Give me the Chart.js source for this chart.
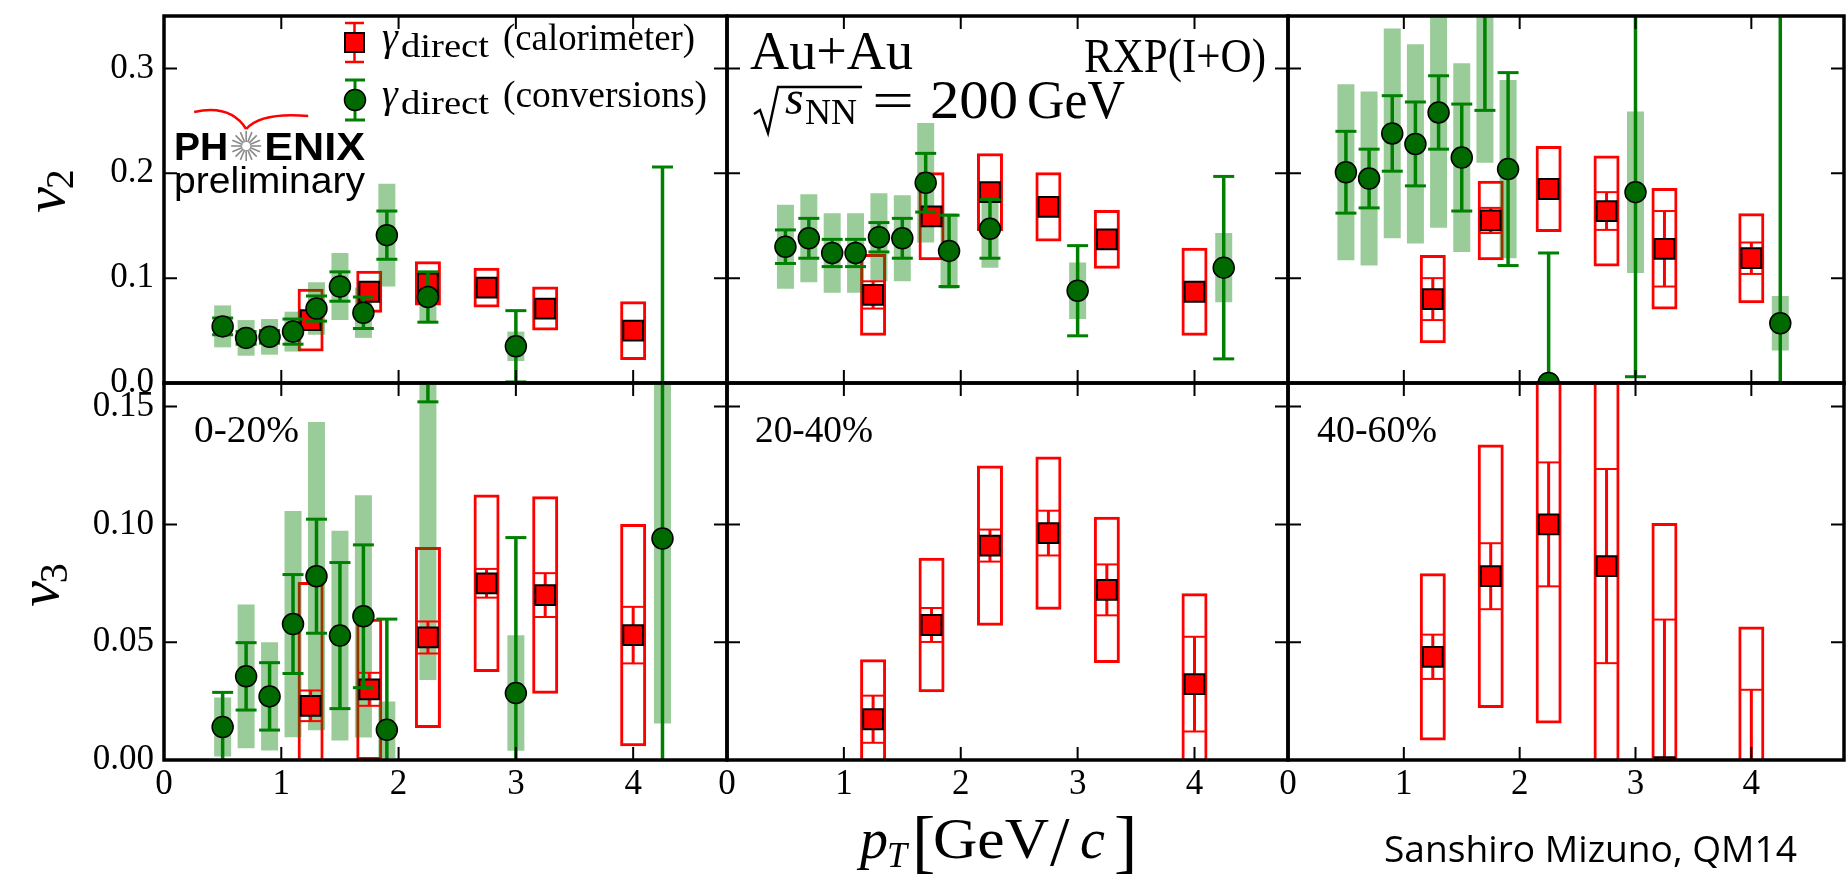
<!DOCTYPE html>
<html>
<head>
<meta charset="utf-8">
<script src="https://cdn.jsdelivr.net/npm/chart.js@4.4.1/dist/chart.umd.min.js"></script>
<style>
  html, body { margin: 0; padding: 0; overflow: hidden; background: #fff; }
  #wrap { position: relative; width: 1847px; height: 880px; overflow: hidden; background: #fff; }
  #wrap canvas { position: absolute; left: 0; top: 0; }
</style>
</head>
<body>
<div id="wrap"></div>
<script>
// ---- axes / ticks ----
const PT_TICKS = [0, 1, 2, 3, 4];
const V2_TICKS = [0.0, 0.1, 0.2, 0.3];
const V3_TICKS = [0.00, 0.05, 0.10, 0.15];

// ---- pT bins ----
const calPt  = [1.25, 1.75, 2.25, 2.75, 3.25, 4.0];
const convPt = [0.5, 0.7, 0.9, 1.1, 1.3, 1.5, 1.7, 1.9, 2.25, 3.0, 4.25];

// ---- v2, 0-20% ----
const v2Cal0020      = [0.060, 0.087, 0.095, 0.091, 0.071, 0.050];
const v2Cal0020Stat  = [0.006, 0.007, 0.007, 0.006, 0.007, 0.007];
const v2Cal0020Sys   = [0.030, 0.020, 0.021, 0.019, 0.021, 0.028];
const v2Conv0020     = [0.054, 0.043, 0.044, 0.049, 0.071, 0.092, 0.067, 0.141, 0.082, 0.035, -0.030];
const v2Conv0020Stat = [0.008, 0.006, 0.006, 0.012, 0.012, 0.014, 0.015, 0.023, 0.024, 0.034, 0.236];
const v2Conv0020Sys  = [0.020, 0.017, 0.017, 0.019, 0.025, 0.032, 0.024, 0.049, 0.023, 0.014, 0.030];

// ---- v2, 20-40% ----
const v2Cal2040      = [0.084, 0.159, 0.182, 0.168, 0.137, 0.087];
const v2Cal2040Stat  = [0.013, 0.008, 0.008, 0.007, 0.007, 0.007];
const v2Cal2040Sys   = [0.039, 0.042, 0.037, 0.033, 0.028, 0.042];
const v2Conv2040     = [0.130, 0.138, 0.124, 0.124, 0.139, 0.138, 0.191, 0.126, 0.147, 0.088, 0.110];
const v2Conv2040Stat = [0.016, 0.019, 0.013, 0.013, 0.014, 0.019, 0.028, 0.034, 0.028, 0.043, 0.087];
const v2Conv2040Sys  = [0.040, 0.042, 0.038, 0.038, 0.042, 0.041, 0.057, 0.036, 0.037, 0.027, 0.033];

// ---- v2, 40-60% ----
const v2Cal4060      = [0.080, 0.155, 0.185, 0.164, 0.128, 0.119];
const v2Cal4060Stat  = [0.020, 0.012, 0.008, 0.018, 0.036, 0.015];
const v2Cal4060Sys   = [0.042, 0.038, 0.041, 0.053, 0.058, 0.043];
const v2Conv4060     = [0.201, 0.195, 0.238, 0.228, 0.258, 0.215, 0.400, 0.204, 0.000, 0.182, 0.057];
const v2Conv4060Stat = [0.039, 0.028, 0.036, 0.040, 0.035, 0.051, 0.140, 0.092, 0.124, 0.176, 0.350];
const v2Conv4060Sys  = [0.084, 0.083, 0.100, 0.095, 0.110, 0.090, 0.190, 0.085, 0.000, 0.077, 0.026];

// ---- v3, 0-20% ----
const v3Cal0020      = [0.023, 0.030, 0.052, 0.075, 0.070, 0.053];
const v3Cal0020Stat  = [0.0065, 0.007, 0.0068, 0.0061, 0.0093, 0.012];
const v3Cal0020Sys   = [0.0525, 0.030, 0.0384, 0.0377, 0.0419, 0.0472];
const v3Conv0020     = [0.014, 0.0355, 0.027, 0.0577, 0.078, 0.0528, 0.061, 0.0128, 0.190, 0.0284, 0.094];
const v3Conv0020Stat = [0.0147, 0.0143, 0.0143, 0.021, 0.0242, 0.031, 0.0303, 0.047, 0.038, 0.066, 0.120];
const v3Conv0020Sys  = [0.0125, 0.0305, 0.023, 0.048, 0.0654, 0.0445, 0.0514, 0.012, 0.156, 0.0245, 0.0785];

// ---- v3, 20-40% ----
const v3Cal2040      = [0.0173, 0.0573, 0.091, 0.0963, 0.0722, 0.0322];
const v3Cal2040Stat  = [0.010, 0.0072, 0.0068, 0.0095, 0.0108, 0.0201];
const v3Cal2040Sys   = [0.0255, 0.0285, 0.034, 0.0325, 0.031, 0.0386];

// ---- v3, 40-60% ----
const v3Cal4060      = [0.0438, 0.078, 0.100, 0.0823, -0.003, -0.010];
const v3Cal4060Stat  = [0.0094, 0.014, 0.0263, 0.0412, 0.0626, 0.0398];
const v3Cal4060Sys   = [0.0355, 0.0559, 0.0845, 0.110, 0.1036, 0.0667];

// ---- page geometry ----
const CW = 1860, CH = 880;
const COL_L = [164, 727, 1288], COL_R = [727, 1288, 1851];
const ROW_T = [10, 383], ROW_B = [383, 760];
const TICK_LEN = 13;

const SERIF = '"Liberation Serif", "Times New Roman", "DejaVu Serif", serif';
const SANS = '"Liberation Sans", Arial, sans-serif';
const RED = '#ff0000', GREEN = '#008000', GREEN_DOT = '#006a00', BAND = 'rgba(0,128,0,0.4)';

Chart.defaults.color = '#000';

const panels = [
  { row: 0, col: 0, yMax: 0.35, yTicks: V2_TICKS, dec: 1, cal: [v2Cal0020, v2Cal0020Stat, v2Cal0020Sys], conv: [v2Conv0020, v2Conv0020Stat, v2Conv0020Sys] },
  { row: 0, col: 1, yMax: 0.35, yTicks: V2_TICKS, dec: 1, cal: [v2Cal2040, v2Cal2040Stat, v2Cal2040Sys], conv: [v2Conv2040, v2Conv2040Stat, v2Conv2040Sys] },
  { row: 0, col: 2, yMax: 0.35, yTicks: V2_TICKS, dec: 1, cal: [v2Cal4060, v2Cal4060Stat, v2Cal4060Sys], conv: [v2Conv4060, v2Conv4060Stat, v2Conv4060Sys] },
  { row: 1, col: 0, yMax: 0.16, yTicks: V3_TICKS, dec: 2, cal: [v3Cal0020, v3Cal0020Stat, v3Cal0020Sys], conv: [v3Conv0020, v3Conv0020Stat, v3Conv0020Sys] },
  { row: 1, col: 1, yMax: 0.16, yTicks: V3_TICKS, dec: 2, cal: [v3Cal2040, v3Cal2040Stat, v3Cal2040Sys], conv: null },
  { row: 1, col: 2, yMax: 0.16, yTicks: V3_TICKS, dec: 2, cal: [v3Cal4060, v3Cal4060Stat, v3Cal4060Sys], conv: null }
];

function ranges(xs, vs, es) { return xs.map((x, k) => ({ x: x, y: [vs[k] - es[k], vs[k] + es[k]] })); }
function points(xs, vs) { return xs.map((x, k) => ({ x: x, y: vs[k] })); }
function caps(xs, vs, es) {
  const out = [];
  xs.forEach((x, k) => { out.push({ x: x, y: vs[k] + es[k] }, { x: x, y: vs[k] - es[k] }); });
  return out;
}

function buildDatasets(p) {
  const ds = [];
  const [cv, cs, csy] = p.cal;
  ds.push({ type: 'bar', data: ranges(calPt, cv, csy), backgroundColor: 'rgba(0,0,0,0)', borderColor: RED,
    borderWidth: 3, borderSkipped: false, barThickness: 26, grouped: false, inflateAmount: 0, order: 70, clip: 0 });
  if (p.conv) {
    const [gv, gs, gsy] = p.conv;
    ds.push({ type: 'bar', data: ranges(convPt, gv, gsy), backgroundColor: BAND, borderWidth: 0,
      barThickness: 17, grouped: false, inflateAmount: 0, order: 60, clip: 0 });
  }
  ds.push({ type: 'bar', data: ranges(calPt, cv, cs), backgroundColor: RED, borderWidth: 0,
    barThickness: 3, grouped: false, inflateAmount: 0, order: 50, clip: 0 });
  ds.push({ type: 'scatter', data: caps(calPt, cv, cs), pointStyle: 'line', pointRadius: 11.5,
    pointBorderColor: RED, pointBorderWidth: 2, order: 49, clip: 0 });
  ds.push({ type: 'scatter', data: points(calPt, cv), pointStyle: 'rect', pointRadius: 14,
    pointBackgroundColor: RED, pointBorderColor: '#000', pointBorderWidth: 2, order: 40, clip: 0 });
  if (p.conv) {
    const [gv, gs] = p.conv;
    ds.push({ type: 'bar', data: ranges(convPt, gv, gs), backgroundColor: GREEN, borderWidth: 0,
      barThickness: 3.5, grouped: false, inflateAmount: 0, order: 30, clip: 0 });
    ds.push({ type: 'scatter', data: caps(convPt, gv, gs), pointStyle: 'line', pointRadius: 10.5,
      pointBorderColor: GREEN, pointBorderWidth: 3, order: 29, clip: 0 });
    ds.push({ type: 'scatter', data: points(convPt, gv), pointStyle: 'circle', pointRadius: 10.5,
      pointBackgroundColor: GREEN_DOT, pointBorderColor: '#000', pointBorderWidth: 1.5, order: 20, clip: 0 });
  }
  return ds;
}

// frame + inward ticks on all four sides
function makeFrame(yTicks) {
  return {
    id: 'frame',
    afterDatasetsDraw(chart) {
      const { ctx, chartArea: a } = chart;
      const xs = chart.scales.x, ys = chart.scales.y;
      ctx.save();
      ctx.strokeStyle = '#000';
      ctx.lineWidth = 2;
      ctx.beginPath();
      PT_TICKS.forEach(v => {
        const px = xs.getPixelForValue(v);
        ctx.moveTo(px, a.bottom); ctx.lineTo(px, a.bottom - TICK_LEN);
        ctx.moveTo(px, a.top); ctx.lineTo(px, a.top + TICK_LEN);
      });
      yTicks.forEach(v => {
        const py = ys.getPixelForValue(v);
        ctx.moveTo(a.left, py); ctx.lineTo(a.left + TICK_LEN, py);
        ctx.moveTo(a.right, py); ctx.lineTo(a.right - TICK_LEN, py);
      });
      ctx.stroke();
      ctx.lineWidth = 3.5;
      ctx.strokeRect(a.left, a.top, a.right - a.left, a.bottom - a.top);
      ctx.restore();
    }
  };
}

// text helper: optional horizontal fit to a target width
function fitText(ctx, s, x, y, font, width) {
  ctx.font = font;
  const w = ctx.measureText(s).width;
  ctx.save();
  ctx.translate(x, y);
  if (width) ctx.scale(width / w, 1);
  ctx.fillText(s, 0, 0);
  ctx.restore();
  return width || w;
}
function seg(ctx, x1, y1, x2, y2) { ctx.beginPath(); ctx.moveTo(x1, y1); ctx.lineTo(x2, y2); ctx.stroke(); }

function drawLegend(ctx) {
  // calorimeter marker
  ctx.strokeStyle = RED; ctx.lineWidth = 2.5;
  seg(ctx, 354.5, 23, 354.5, 62); seg(ctx, 345, 23, 364, 23); seg(ctx, 345, 62, 364, 62);
  ctx.fillStyle = RED; ctx.fillRect(345, 33, 19, 19);
  ctx.strokeStyle = '#000'; ctx.lineWidth = 2; ctx.strokeRect(345, 33, 19, 19);
  // conversions marker
  ctx.strokeStyle = GREEN; ctx.lineWidth = 3;
  seg(ctx, 355, 80, 355, 120); seg(ctx, 345, 80, 365, 80); seg(ctx, 345, 120, 365, 120);
  ctx.fillStyle = GREEN_DOT; ctx.beginPath(); ctx.arc(355, 100, 10.5, 0, Math.PI * 2); ctx.fill();
  ctx.strokeStyle = '#000'; ctx.lineWidth = 1.5; ctx.stroke();
  // labels
  ctx.fillStyle = '#000'; ctx.textAlign = 'left'; ctx.textBaseline = 'alphabetic';
  [[50, '(calorimeter)', 192], [107, '(conversions)', 204]].forEach(([y, lab, w]) => {
    fitText(ctx, 'γ', 382, y, 'italic 40px ' + SERIF);
    fitText(ctx, 'direct', 401, y + 7, '33px ' + SERIF, 88);
    fitText(ctx, lab, 503, y, '38px ' + SERIF, w);
  });
}

function drawPhenix(ctx) {
  ctx.fillStyle = '#000'; ctx.textAlign = 'left'; ctx.textBaseline = 'alphabetic';
  ctx.font = 'bold 39px ' + SANS;
  ctx.fillText('PH', 174, 160);
  const wPH = ctx.measureText('PH').width;
  const cx = 174 + wPH + 18, cy = 146;
  ctx.strokeStyle = '#8a8a8a'; ctx.lineWidth = 1.6;
  for (let k = 0; k < 16; k++) {
    const a = k * Math.PI / 8;
    seg(ctx, cx + 4 * Math.cos(a), cy + 4 * Math.sin(a), cx + 15 * Math.cos(a), cy + 15 * Math.sin(a));
  }
  fitText(ctx, 'ENIX', cx + 18, 160, 'bold 39px ' + SANS, 365 - cx - 18);
  fitText(ctx, 'preliminary', 174, 193, '36px ' + SANS, 191);
  ctx.strokeStyle = RED; ctx.lineWidth = 2.5;
  ctx.beginPath(); ctx.moveTo(cx - 52, 112); ctx.quadraticCurveTo(cx - 16, 104, cx, 129); ctx.stroke();
  ctx.beginPath(); ctx.moveTo(cx, 129); ctx.quadraticCurveTo(cx + 15, 112, cx + 62, 116); ctx.stroke();
}

function drawTitles(ctx) {
  ctx.fillStyle = '#000'; ctx.textAlign = 'left'; ctx.textBaseline = 'alphabetic';
  // rotated y titles
  [[64, 190, '2'], [58, 584, '3']].forEach(([x, y, sub]) => {
    ctx.save();
    ctx.translate(x, y);
    ctx.rotate(-Math.PI / 2);
    ctx.font = 'italic 58px ' + SERIF;
    const wv = ctx.measureText('v').width;
    ctx.font = '40px ' + SERIF;
    const ws = ctx.measureText(sub).width;
    const x0 = -(wv + ws) / 2;
    ctx.font = 'italic 58px ' + SERIF; ctx.fillText('v', x0, 0);
    ctx.font = '40px ' + SERIF; ctx.fillText(sub, x0 + wv - 2, 9);
    ctx.restore();
  });
  // x title
  const by = 858;
  fitText(ctx, 'p', 860, by, 'italic 56px ' + SERIF);
  fitText(ctx, 'T', 887, by + 9, 'italic 36px ' + SERIF);
  fitText(ctx, '[', 912, by + 7, '70px ' + SERIF);
  fitText(ctx, 'GeV', 933, by, '56px ' + SERIF, 116);
  fitText(ctx, '/', 1050, by + 7, '70px ' + SERIF);
  fitText(ctx, 'c', 1080, by, 'italic 56px ' + SERIF);
  fitText(ctx, ']', 1114, by + 7, '70px ' + SERIF);
  // credit
  fitText(ctx, 'Sanshiro Mizuno, QM14', 1384, 862, '36px "Open Sans", "Noto Sans", sans-serif', 413);
}

function drawSystem(ctx) {
  ctx.fillStyle = '#000'; ctx.textAlign = 'left'; ctx.textBaseline = 'alphabetic';
  fitText(ctx, 'Au+Au', 750, 69, '54px ' + SERIF, 163);
  fitText(ctx, 'RXP(I+O)', 1084, 72, '48px ' + SERIF, 182);
  ctx.strokeStyle = '#000'; ctx.lineWidth = 2.4; ctx.lineJoin = 'miter';
  ctx.beginPath();
  ctx.moveTo(754, 114); ctx.lineTo(760, 110); ctx.lineTo(768, 133); ctx.lineTo(778, 87); ctx.lineTo(862, 87);
  ctx.stroke();
  fitText(ctx, 's', 785, 114, 'italic 48px ' + SERIF);
  fitText(ctx, 'NN', 805, 124, '36px ' + SERIF, 52);
  fitText(ctx, '=', 872, 118, '52px ' + SERIF, 42);
  fitText(ctx, '200', 930, 118, '54px ' + SERIF, 88);
  fitText(ctx, 'GeV', 1027, 118, '54px ' + SERIF, 98);
}

const centLabels = { 3: ['0-20%', 194, 105], 4: ['20-40%', 755, 118], 5: ['40-60%', 1317, 120] };

function makeText(i) {
  return {
    id: 'txt' + i,
    afterDraw(chart) {
      const ctx = chart.ctx;
      ctx.save();
      if (i === 0) { drawLegend(ctx); drawPhenix(ctx); drawTitles(ctx); }
      if (i === 1) drawSystem(ctx);
      if (centLabels[i]) {
        const [s, x, w] = centLabels[i];
        ctx.fillStyle = '#000'; ctx.textAlign = 'left'; ctx.textBaseline = 'alphabetic';
        fitText(ctx, s, x, 442, '38px ' + SERIF, w);
      }
      ctx.restore();
    }
  };
}

const wrap = document.getElementById('wrap');
panels.forEach((p, i) => {
  const cv = document.createElement('canvas');
  cv.width = CW; cv.height = CH;
  cv.style.width = CW + 'px'; cv.style.height = CH + 'px';
  wrap.appendChild(cv);
  const showY = p.col === 0, showX = p.row === 1;
  new Chart(cv, {
    type: 'scatter',
    data: { datasets: buildDatasets(p) },
    options: {
      responsive: false,
      animation: false,
      events: [],
      layout: {
        padding: {
          left: showY ? 0 : COL_L[p.col],
          right: CW - COL_R[p.col],
          top: ROW_T[p.row],
          bottom: showX ? 0 : CH - ROW_B[p.row]
        }
      },
      plugins: { legend: { display: false }, tooltip: { enabled: false } },
      scales: {
        x: {
          type: 'linear', min: 0, max: 4.8, offset: false, display: showX,
          grid: { display: false, drawTicks: false }, border: { display: false },
          afterBuildTicks: s => { s.ticks = PT_TICKS.map(v => ({ value: v })); },
          ticks: { callback: v => String(v), font: { family: SERIF, size: 35 }, color: '#000', padding: 4, maxRotation: 0, autoSkip: false },
          afterFit: s => { if (showX) { s.height = CH - ROW_B[1]; s.paddingLeft = 0; s.paddingRight = 0; } }
        },
        y: {
          type: 'linear', min: 0, max: p.yMax, display: showY,
          grid: { display: false, drawTicks: false }, border: { display: false },
          afterBuildTicks: s => { s.ticks = p.yTicks.map(v => ({ value: v })); },
          ticks: { callback: v => v.toFixed(p.dec), font: { family: SERIF, size: 35 }, color: '#000', padding: 10, autoSkip: false },
          afterFit: s => { if (showY) { s.width = COL_L[0]; s.paddingTop = 0; s.paddingBottom = 0; } }
        }
      }
    },
    plugins: [makeFrame(p.yTicks), makeText(i)]
  });
});
</script>
</body>
</html>
